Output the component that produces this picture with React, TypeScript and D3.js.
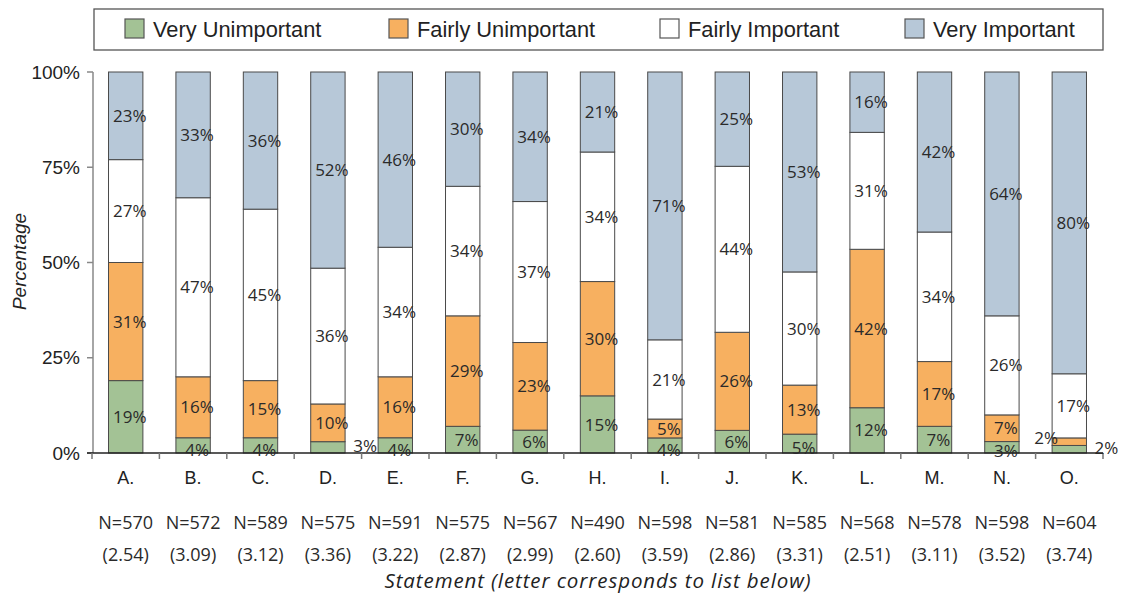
import React from "react";
import * as d3 from "d3";

const categories = ["A.", "B.", "C.", "D.", "E.", "F.", "G.", "H.", "I.", "J.", "K.", "L.", "M.", "N.", "O."];
const seriesNames = ["Very Unimportant", "Fairly Unimportant", "Fairly Important", "Very Important"];
const seriesColors = ["#a3c295", "#f7b060", "#ffffff", "#b7c8d8"];

const veryUnimportant = [19, 4, 4, 3, 4, 7, 6, 15, 4, 6, 5, 12, 7, 3, 2];
const fairlyUnimportant = [31, 16, 15, 10, 16, 29, 23, 30, 5, 26, 13, 42, 17, 7, 2];
const fairlyImportant = [27, 47, 45, 36, 34, 34, 37, 34, 21, 44, 30, 31, 34, 26, 17];
const veryImportant = [23, 33, 36, 52, 46, 30, 34, 21, 71, 25, 53, 16, 42, 64, 80];

const sampleSizes = [570, 572, 589, 575, 591, 575, 567, 490, 598, 581, 585, 568, 578, 598, 604];
const means = ["2.54", "3.09", "3.12", "3.36", "3.22", "2.87", "2.99", "2.60", "3.59", "2.86", "3.31", "2.51", "3.11", "3.52", "3.74"];

const yTicks = [0, 25, 50, 75, 100];

// labels drawn outside the bar: [category index, series index, side]
const outsideLabels: [number, number, string][] = [
  [3, 0, "right"],
  [14, 0, "right"],
  [14, 1, "left"],
];

const W = 1123;
const H = 593;

export default function App() {
  const series = [veryUnimportant, fairlyUnimportant, fairlyImportant, veryImportant];
  const x = d3.scaleBand<string>().domain(categories).range([92, 1103]).paddingInner(0.49).paddingOuter(0.245);
  const y = d3.scaleLinear().domain([0, 100]).range([453, 72]);
  const bw = x.bandwidth();
  const gap = x.step() - bw;

  const rows = categories.map((c, i) => {
    const vals = series.map((s) => s[i]);
    const total = d3.sum(vals);
    let acc = 0;
    return vals.map((v, k) => {
      const y0 = (acc / total) * 100;
      acc += v;
      const y1 = (acc / total) * 100;
      return { c, i, k, v, y0, y1 };
    });
  });

  const sans = "'Liberation Sans', Arial, Helvetica, sans-serif";
  const lab = "'Open Sans', 'Noto Sans', sans-serif";

  const legendX = [153, 417, 688, 933];

  return (
    <svg width={W} height={H} style={{ position: "absolute", left: 0, top: 0, background: "#fff" }}>
      {/* legend */}
      <rect x={94} y={9} width={1009} height={41} fill="#fff" stroke="#555" strokeWidth={1.3} />
      {seriesNames.map((n, k) => (
        <g key={n}>
          <rect x={legendX[k] - 28} y={19} width={19} height={19} fill={seriesColors[k]} stroke="#555" strokeWidth={1.2} />
          <text x={legendX[k]} y={29} dy="0.35em" fontFamily={sans} fontSize={21.8} fill="#222">{n}</text>
        </g>
      ))}

      {/* bars */}
      {rows.map((segs) =>
        segs.map((s) => (
          <rect
            key={`${s.c}-${s.k}`}
            x={x(s.c)}
            y={y(s.y1)}
            width={bw}
            height={y(s.y0) - y(s.y1)}
            fill={seriesColors[s.k]}
            stroke="#4a4a4a"
            strokeWidth={1}
          />
        ))
      )}

      {/* axes */}
      <line x1={93} x2={93} y1={y(100)} y2={y(0)} stroke="#888" strokeWidth={1.5} />
      {yTicks.map((t) => (
        <g key={t}>
          <line x1={87} x2={93} y1={y(t)} y2={y(t)} stroke="#888" strokeWidth={1.5} />
          <text x={80} y={y(t)} dy="0.35em" textAnchor="end" fontFamily={sans} fontSize={19} fill="#222">{t}%</text>
        </g>
      ))}
      <line x1={87} x2={1103} y1={y(0)} y2={y(0)} stroke="#222" strokeWidth={1.5} />
      {d3.range(categories.length + 1).map((j) => {
        const bx = j < categories.length ? (x(categories[j]) as number) - gap / 2 : (x(categories[j - 1]) as number) + bw + gap / 2;
        return <line key={j} x1={bx} x2={bx} y1={y(0)} y2={y(0) + 6} stroke="#777" strokeWidth={1.5} />;
      })}

      {/* segment labels */}
      {rows.map((segs) =>
        segs.map((s) => {
          const out = outsideLabels.find((o) => o[0] === s.i && o[1] === s.k);
          const bx = x(s.c) as number;
          let lx = bx + bw / 2 + 4;
          let ly = (y(s.y0) + y(s.y1)) / 2;
          if (out) {
            if (out[2] === "right") {
              lx = bx + bw + 20;
              ly = ly - 1;
            } else {
              lx = bx - 6;
              ly = ly - 4;
            }
          } else if (s.k === 0 && y(s.y0) - y(s.y1) < 20) {
            ly = Math.min(ly + 4, y(0) - 2);
          }
          return (
            <text key={`l-${s.c}-${s.k}`} x={lx} y={ly} dy="0.36em" textAnchor="middle" fontFamily={lab} fontSize={17} fill="#2a2a2a">
              {s.v}%
            </text>
          );
        })
      )}

      {/* category labels */}
      {categories.map((c, i) => {
        const cx = (x(c) as number) + bw / 2;
        return (
          <g key={c}>
            <text x={cx} y={478} dy="0.35em" textAnchor="middle" fontFamily={sans} fontSize={18} fill="#222">{c}</text>
            <text x={cx} y={523} dy="0.35em" textAnchor="middle" fontFamily={lab} fontSize={18} fill="#2a2a2a">N={sampleSizes[i]}</text>
            <text x={cx} y={555} dy="0.35em" textAnchor="middle" fontFamily={lab} fontSize={18} fill="#2a2a2a">({means[i]})</text>
          </g>
        );
      })}

      {/* axis titles */}
      <text x={598} y={581} dy="0.35em" textAnchor="middle" fontFamily={lab} fontStyle="italic" fontSize={20.5} letterSpacing={0.9} fill="#222">
        Statement (letter corresponds to list below)
      </text>
      <text transform={`translate(19,${y(50) - 1}) rotate(-90)`} dy="0.35em" textAnchor="middle" fontFamily={sans} fontStyle="italic" fontSize={19} fill="#222">
        Percentage
      </text>
    </svg>
  );
}
